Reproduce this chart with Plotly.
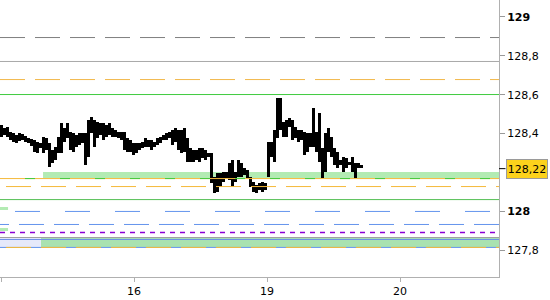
import plotly.graph_objects as go

# ---------------- data ----------------
day_labels = ["15", "16", "19", "20"]
day_positions = [0, 1, 2, 3]

bar_high = [128.445, 128.429, 128.435, 128.409, 128.404, 128.393, 128.404, 128.399, 128.388, 128.378,
            128.373, 128.368, 128.357, 128.352, 128.383, 128.378, 128.352, 128.316, 128.332, 128.383,
            128.455, 128.429, 128.455, 128.409, 128.404, 128.393, 128.404, 128.404, 128.404, 128.470,
            128.486, 128.470, 128.460, 128.455, 128.455, 128.445, 128.455, 128.429, 128.419, 128.409,
            128.409, 128.409, 128.378, 128.368, 128.352, 128.352, 128.352, 128.357, 128.378, 128.368,
            128.368, 128.357, 128.378, 128.383, 128.393, 128.404, 128.409, 128.419, 128.429, 128.419,
            128.419, 128.429, 128.378, 128.327, 128.316, 128.316, 128.327, 128.327, 128.316, 128.301,
            128.301, 128.177, 128.198, 128.198, 128.203, 128.203, 128.249, 128.265, 128.203, 128.265,
            128.249, 128.224, 128.213, 128.177, 128.152, 128.136, 128.147, 128.152, 128.147, 128.357,
            128.357, 128.419, 128.584, 128.584, 128.460, 128.470, 128.481, 128.470, 128.435, 128.419,
            128.419, 128.409, 128.404, 128.404, 128.532, 128.409, 128.507, 128.327, 128.404, 128.429,
            128.383, 128.327, 128.306, 128.265, 128.280, 128.275, 128.255, 128.280, 128.249, 128.249,
            128.239]
bar_low = [128.383, 128.393, 128.383, 128.368, 128.357, 128.352, 128.363, 128.368, 128.357, 128.352,
           128.337, 128.306, 128.301, 128.327, 128.301, 128.316, 128.229, 128.249, 128.265, 128.301,
           128.301, 128.357, 128.378, 128.316, 128.306, 128.332, 128.342, 128.352, 128.239, 128.280,
           128.404, 128.332, 128.378, 128.393, 128.368, 128.383, 128.393, 128.383, 128.383, 128.378,
           128.368, 128.316, 128.306, 128.306, 128.291, 128.301, 128.316, 128.327, 128.332, 128.332,
           128.316, 128.332, 128.342, 128.352, 128.368, 128.368, 128.378, 128.342, 128.357, 128.316,
           128.301, 128.306, 128.255, 128.255, 128.255, 128.265, 128.255, 128.275, 128.265, 128.280,
           128.147, 128.095, 128.100, 128.126, 128.152, 128.172, 128.162, 128.126, 128.152, 128.177,
           128.177, 128.188, 128.172, 128.126, 128.100, 128.095, 128.111, 128.100, 128.111, 128.177,
           128.280, 128.255, 128.378, 128.419, 128.383, 128.383, 128.435, 128.368, 128.378, 128.357,
           128.368, 128.291, 128.306, 128.332, 128.332, 128.306, 128.255, 128.172, 128.203, 128.306,
           128.280, 128.239, 128.224, 128.239, 128.203, 128.224, 128.239, 128.203, 128.172, 128.224,
           128.224]
last_price = 128.22
last_label = "128,22"

ytick_vals = [127.8, 128.0, 128.4, 128.6, 128.8, 129.0]
ytick_text = ["127,8", "<b>128</b>", "128,4", "128,6", "128,8", "<b>129</b>"]

BARS_PER_DAY = 133 / 3.0
FIRST_BAR = 0.5 / 133

# horizontal levels: (value, colour, dash, width)
levels = [
    (128.894, "#7f7f7f", "25px,10px", 1),
    (128.771, "#a8a8a8", "solid", 1),
    (128.678, "#f2b84b", "25px,10px", 1),
    (128.601, "#3fcb3f", "solid", 1),
    (128.169, "#f5b93a", "solid", 1),
    (128.169, "#3fcb3f", "0px,25px,10px,0px", 1),
    (128.128, "#f5b93a", "0px,6px,25px,4px", 1),
    (128.061, "#55bf55", "solid", 1),
    (128.000, "#6495ed", "0px,15px,25px,10px,0px,0px", 1),
    (127.933, "#6495ed", "9px,10px,16px,0px", 1),
    (127.892, "#8a00d4", "5px,5px", 1.5),
    (127.866, "#a0a0a0", "solid", 1),
    (127.856, "#6b8fe6", "solid", 1),
    (127.815, "#6495ed", "solid", 1),
    (127.815, "#f5b93a", "0px,6px,25px,4px", 1),
]

# zones: (x start in days, x end in days, low, high, colour)
zones = [
    (0.316, 10, 128.172, 128.203, "#b3ebb3"),
    (0.300, 10, 127.817, 127.864, "#a9e2b0"),
    (-1, 0.300, 127.817, 127.864, "#e6e9fa"),
    (-1, 0.053, 128.0075, 128.0228, "#b3ebb3"),
    (-1, 0.053, 127.8996, 127.915, "#b3ebb3"),
]

# ---------------- figure ----------------
xs = [FIRST_BAR + i / BARS_PER_DAY for i in range(len(bar_high))]
heights = [h - l for h, l in zip(bar_high, bar_low)]

fig = go.Figure()
fig.add_trace(go.Bar(
    x=xs, y=heights, base=bar_low,
    width=1.0 / BARS_PER_DAY,
    marker=dict(color="#000000", line=dict(width=0)),
    showlegend=False, hoverinfo="skip",
))

shapes = []
for x0, x1, lo, hi, col in zones:
    shapes.append(dict(type="rect", xref="x", yref="y", x0=x0, x1=x1, y0=lo, y1=hi,
                       fillcolor=col, line=dict(width=0), layer="below"))
for val, col, dash, w in levels:
    shapes.append(dict(type="line", xref="paper", yref="y", x0=0, x1=1, y0=val, y1=val,
                       line=dict(color=col, width=w, dash=dash), layer="above"))
# black tick for last price on the axis
shapes.append(dict(type="line", xref="paper", yref="y", x0=1.0, x1=1.013, y0=last_price, y1=last_price,
                   line=dict(color="#000000", width=1)))

fig.update_layout(
    width=550, height=300,
    margin=dict(l=0, r=51, t=0, b=23),
    paper_bgcolor="white", plot_bgcolor="white",
    font=dict(family="DejaVu Sans", size=11, color="#000000"),
    bargap=0,
    shapes=shapes,
    xaxis=dict(
        range=[-1 / 133, 498 / 133],
        tickvals=day_positions, ticktext=day_labels,
        showgrid=False, zeroline=False,
        showline=True, linecolor="#b0b0b0", linewidth=1,
        ticks="outside", ticklen=4, tickcolor="#b0b0b0",
        tickfont=dict(family="DejaVu Sans", size=11, color="#000000"),
    ),
    yaxis=dict(
        side="right",
        range=[127.663, 129.087],
        tickvals=ytick_vals, ticktext=ytick_text,
        showgrid=False, zeroline=False,
        showline=True, linecolor="#b0b0b0", linewidth=1,
        ticks="outside", ticklen=5, tickcolor="#999999",
        tickfont=dict(family="DejaVu Sans", size=11, color="#000000"),
    ),
    annotations=[dict(
        xref="paper", yref="y", x=1, y=last_price, xanchor="left", yanchor="middle",
        xshift=7, text=last_label, showarrow=False,
        font=dict(family="DejaVu Sans", size=11, color="#000000"),
        bgcolor="#fcd21c", bordercolor="#9a9a9a", borderwidth=1, borderpad=0,
        width=40, height=18,
    )],
)

fig.write_html("out.html")
